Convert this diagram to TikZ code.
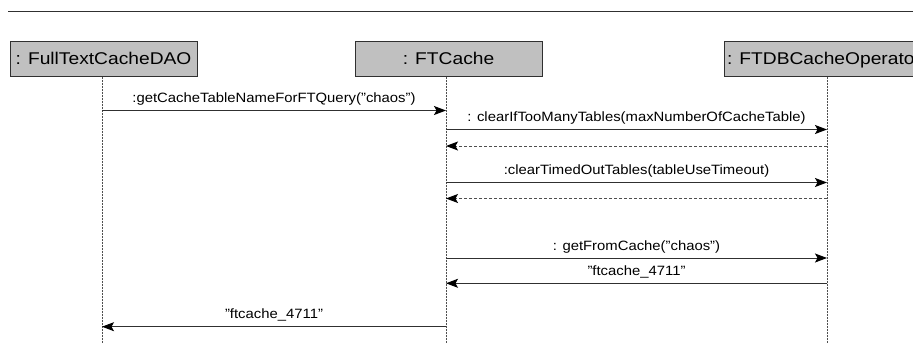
\documentclass[tikz,border=0pt]{standalone}
\usepackage{fontspec}
\setmainfont{Liberation Sans}
\usetikzlibrary{arrows.meta}

\definecolor{boxgray}{RGB}{192,192,192}
\definecolor{ink}{RGB}{48,48,48}

% object names in the header boxes, and message labels
\newcommand{\objname}[1]{\scalebox{1.13}[1]{\fontsize{17}{20}\selectfont #1}}
\newcommand{\msgname}[1]{\scalebox{1.1}[1]{\fontsize{13.5}{16}\selectfont #1}}

\begin{document}
\begin{tikzpicture}[x=1pt,y=-1pt,
  objbox/.style={draw=ink, line width=1pt, fill=boxgray, minimum width=187pt,
    minimum height=35pt, inner sep=0pt, text height=12.5pt, text depth=0pt},
  lifeline/.style={draw=ink!85, line width=0.8pt, dash pattern=on 2pt off 1pt},
  call/.style={draw=ink, line width=1pt,
    -{Stealth[length=12pt,width=9pt,inset=2.5pt,color=black]}},
  reply/.style={call, draw=ink!85, dash pattern=on 3pt off 2pt},
  msg/.style={anchor=base, inner sep=0pt, yshift=8pt}
]
\useasboundingbox (0,0) rectangle (913,343);

% frame rule along the top
\draw[ink, line width=1.1pt] (8,11.7) -- (913,11.7);

% participants
\node[objbox] (dao) at (103.5,58.5) {\objname{: FullTextCacheDAO}};
\node[objbox] (cache) at (448.5,58.5) {\objname{: FTCache}};
\node[objbox, inner xsep=3pt] (oper) at (826.5,58.5)
  {\makebox[199pt][l]{\objname{: FTDBCacheOperato}}};

% lifelines
\coordinate (daoX) at (102,343);
\coordinate (cacheX) at (446,343);
\coordinate (operX) at (827,343);
\draw[lifeline] (dao.south -| daoX) -- (daoX);
\draw[lifeline] (cache.south -| cacheX) -- (cacheX);
\draw[lifeline] (oper.south -| operX) -- (operX);

% message anchor points on the lifelines
\coordinate (d1) at (102,110.5);  \coordinate (c1) at (446,110.5);
\coordinate (c2) at (446,129.5);  \coordinate (o2) at (827,129.5);
\coordinate (c3) at (446,146);    \coordinate (o3) at (827,146);
\coordinate (c4) at (446,182.5);  \coordinate (o4) at (827,182.5);
\coordinate (c5) at (446,198.5);  \coordinate (o5) at (827,198.5);
\coordinate (c6) at (446,258);    \coordinate (o6) at (827,258);
\coordinate (c7) at (446,283.3);  \coordinate (o7) at (827,283.3);
\coordinate (d8) at (102,326.7);  \coordinate (c8) at (446,326.7);

% messages
\draw[call] (d1) -- node[msg] {\msgname{:getCacheTableNameForFTQuery("chaos")}} (c1);
\draw[call] (c2) -- node[msg] {\msgname{: clearIfTooManyTables(maxNumberOfCacheTable)}} (o2);
\draw[reply] (o3) -- (c3);
\draw[call] (c4) -- node[msg] {\msgname{:clearTimedOutTables(tableUseTimeout)}} (o4);
\draw[reply] (o5) -- (c5);
\draw[call] (c6) -- node[msg] {\msgname{: getFromCache("chaos")}} (o6);
\draw[call] (o7) -- node[msg] {\msgname{"ftcache\_4711"}} (c7);
\draw[call] (c8) -- node[msg] {\msgname{"ftcache\_4711"}} (d8);
\end{tikzpicture}
\end{document}
